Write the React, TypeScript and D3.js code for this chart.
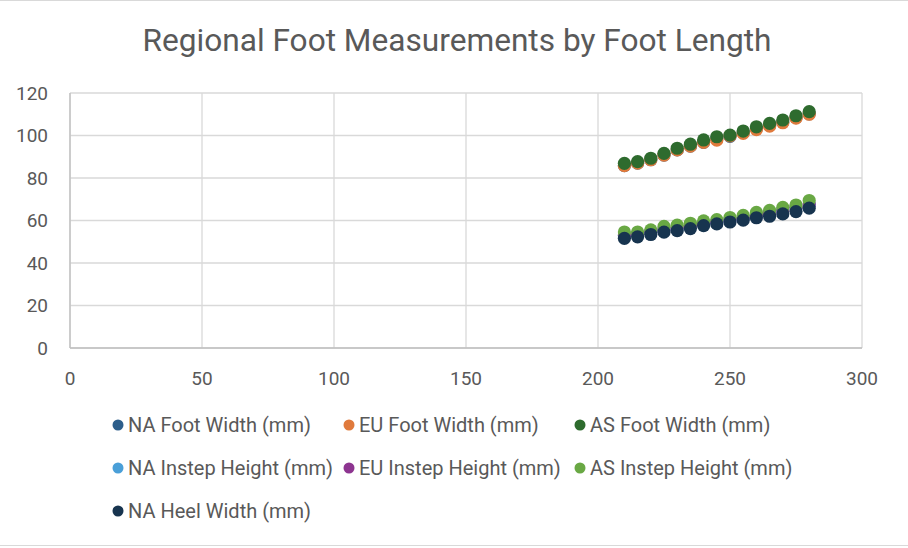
import React from "react";
import * as d3 from "d3";

const footLength = [210, 215, 220, 225, 230, 235, 240, 245, 250, 255, 260, 265, 270, 275, 280];
const naFootWidth = [85.8, 87.0, 88.6, 90.8, 93.2, 95.0, 96.8, 98.6, 99.6, 101.4, 103.2, 104.8, 106.4, 108.4, 110.2];
const euFootWidth = [85.8, 87.0, 88.6, 90.8, 93.2, 95.0, 96.8, 97.8, 99.8, 101.0, 102.8, 104.4, 106.0, 108.2, 110.0];
const asFootWidth = [86.9, 87.7, 89.3, 91.6, 94.0, 95.9, 97.9, 99.4, 100.2, 102.1, 104.1, 105.7, 107.3, 109.3, 111.2];
const naInstepHeight = [53.0, 53.5, 54.5, 55.8, 56.5, 57.5, 58.5, 59.2, 60.2, 61.2, 62.5, 63.5, 64.8, 66.0, 67.5];
const euInstepHeight = [53.2, 53.8, 54.8, 56.0, 56.8, 57.8, 58.8, 59.5, 60.5, 61.5, 62.8, 63.8, 65.0, 66.2, 67.8];
const asInstepHeight = [54.6, 54.6, 55.6, 57.2, 57.8, 58.7, 59.8, 60.4, 61.4, 62.4, 63.8, 64.8, 66.2, 67.3, 69.4];
const naHeelWidth = [51.6, 52.3, 53.4, 54.5, 55.2, 56.2, 57.6, 58.4, 59.3, 60.2, 61.3, 62.0, 63.1, 64.2, 65.8];

const seriesNames = [
  "NA Foot Width (mm)",
  "EU Foot Width (mm)",
  "AS Foot Width (mm)",
  "NA Instep Height (mm)",
  "EU Instep Height (mm)",
  "AS Instep Height (mm)",
  "NA Heel Width (mm)",
];
const seriesValues = [naFootWidth, euFootWidth, asFootWidth, naInstepHeight, euInstepHeight, asInstepHeight, naHeelWidth];
const seriesColors = ["#2d5e8b", "#e07a3c", "#2e6b2e", "#4a9fd8", "#8d3590", "#69a844", "#17344f"];

const xTicks = [0, 50, 100, 150, 200, 250, 300];
const yTicks = [0, 20, 40, 60, 80, 100, 120];

const W = 908;
const H = 548;
const FONT = "Roboto, 'Liberation Sans', sans-serif";

export default function App() {
  const x = d3.scaleLinear().domain([0, 300]).range([70, 862]);
  const y = d3.scaleLinear().domain([0, 120]).range([348, 93]);

  const legendPos = seriesNames.map((_, i) => ({
    cx: [118, 349, 580][i % 3],
    cy: [425, 468, 511][Math.floor(i / 3)],
  }));

  return (
    <svg width={W} height={H} style={{ position: "absolute", left: 0, top: 0, background: "#fff" }} fontFamily={FONT}>
      <rect x={0} y={0} width={W} height={H} fill="#fff" />
      <line x1={0} x2={W} y1={0.5} y2={0.5} stroke="#d9d9d9" />
      <line x1={0} x2={W} y1={H - 2.5} y2={H - 2.5} stroke="#d9d9d9" />
      <text x={W / 2 + 3} y={51} textAnchor="middle" fontSize={31} fill="#595959" fontFamily={FONT} textLength={629} lengthAdjust="spacingAndGlyphs">
        Regional Foot Measurements by Foot Length
      </text>
      {yTicks.map((t) => (
        <line key={"gy" + t} x1={x(0)} x2={x(300)} y1={y(t)} y2={y(t)} stroke="#d9d9d9" strokeWidth={1.3} />
      ))}
      {xTicks.map((t) => (
        <line key={"gx" + t} x1={x(t)} x2={x(t)} y1={y(0)} y2={y(120)} stroke="#d9d9d9" strokeWidth={1.3} />
      ))}
      <line x1={x(0)} x2={x(0)} y1={y(0)} y2={y(120)} stroke="#bfbfbf" strokeWidth={1.3} />
      <line x1={x(0)} x2={x(300)} y1={y(0)} y2={y(0)} stroke="#bfbfbf" strokeWidth={1.3} />
      {yTicks.map((t) => (
        <text key={"ty" + t} x={48} y={y(t) + 6.5} textAnchor="end" fontSize={19} fill="#595959">
          {t}
        </text>
      ))}
      {xTicks.map((t) => (
        <text key={"tx" + t} x={x(t)} y={385} textAnchor="middle" fontSize={19} fill="#595959">
          {t}
        </text>
      ))}
      {seriesValues.map((vals, si) => (
        <g key={"s" + si}>
          {vals.map((v, i) => (
            <circle key={i} cx={x(footLength[i])} cy={y(v)} r={6.6} fill={seriesColors[si]} />
          ))}
        </g>
      ))}
      {seriesNames.map((n, i) => (
        <g key={"l" + i}>
          <circle cx={legendPos[i].cx} cy={legendPos[i].cy} r={5.5} fill={seriesColors[i]} />
          <text x={legendPos[i].cx + 10} y={legendPos[i].cy + 7} fontSize={20} fill="#595959">
            {n}
          </text>
        </g>
      ))}
    </svg>
  );
}
